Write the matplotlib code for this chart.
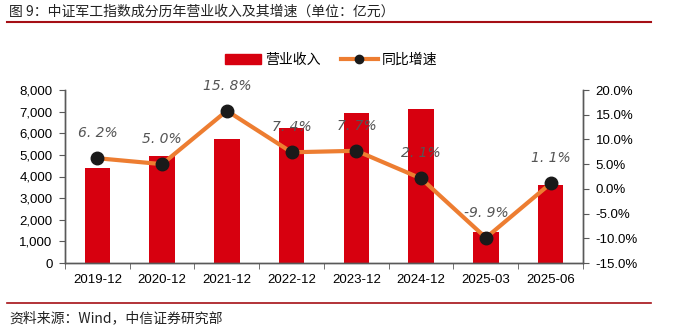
import matplotlib.pyplot as plt
import numpy as np
from matplotlib.lines import Line2D
from matplotlib.patches import Patch
from matplotlib.ticker import FuncFormatter, FixedLocator

plt.rcParams['font.family'] = ['Liberation Sans', 'Noto Sans CJK SC', 'DejaVu Sans']

categories = ['2019-12', '2020-12', '2021-12', '2022-12', '2023-12', '2024-12', '2025-03', '2025-06']
revenue = [4400, 4940, 5720, 6250, 6920, 7100, 1420, 3590]
growth = [6.2, 5.0, 15.8, 7.4, 7.7, 2.1, -9.9, 1.1]

red = '#D7000F'
orange = '#ED7D31'
axcol = '#595959'
cjk = ['Noto Sans CJK SC', 'DejaVu Sans']

fig = plt.figure(figsize=(6.87, 3.30), dpi=100)
ax = fig.add_axes([65 / 687, 1 - 263 / 330, 518 / 687, 173 / 330])
ax2 = ax.twinx()

x = np.arange(len(categories))
ax.bar(x, revenue, width=0.39, color=red, zorder=2)
ax.set_xlim(-0.5, len(categories) - 0.5)
ax.set_ylim(0, 8000)
ax.set_yticks(np.arange(0, 8001, 1000))
ax.yaxis.set_major_formatter(FuncFormatter(lambda v, p: f'{int(v):,}'))
ax.set_xticks(x)
ax.set_xticklabels(categories)
ax.xaxis.set_minor_locator(FixedLocator(np.arange(-0.5, len(categories), 1)))
ax.tick_params(axis='x', which='major', length=0, pad=8, labelsize=9.5, colors='black')
ax.tick_params(axis='x', which='minor', length=4, direction='out', color=axcol)
ax.tick_params(axis='y', length=4, direction='out', color=axcol, labelsize=9.5, pad=5)

ax2.plot(x, growth, color=orange, lw=3, marker='o', ms=9, mfc='#1a1a1a', mec='#1a1a1a', zorder=3)
ax2.set_ylim(-15, 20)
ax2.set_yticks(np.arange(-15, 20.1, 5))
ax2.yaxis.set_major_formatter(FuncFormatter(lambda v, p: f'{v:.1f}%'))
ax2.tick_params(axis='y', length=4, direction='out', color=axcol, labelsize=9.5, pad=5)

for i, g in enumerate(growth):
    ax2.annotate(f'{g:.1f}%'.replace('.', '. '), (x[i], g), xytext=(0, 13), textcoords='offset points',
                 ha='center', va='bottom', fontsize=10, style='italic', color='#555555',
                 family='DejaVu Sans', zorder=4)

for a in (ax, ax2):
    a.spines['top'].set_visible(False)
    for s in ('left', 'right', 'bottom'):
        a.spines[s].set_color(axcol)
        a.spines[s].set_linewidth(1)

handles = [Patch(color=red, label='营业收入'),
           Line2D([0], [0], color=orange, lw=3, marker='o', ms=6, mfc='#1a1a1a', mec='#1a1a1a', label='同比增速')]
fig.legend(handles=handles, loc='center', bbox_to_anchor=(331 / 687, 1 - 60 / 330), ncol=2, frameon=False,
           prop={'family': cjk, 'size': 10}, handlelength=2.6, handletextpad=0.3, columnspacing=1.5)

fig.text(9 / 687, 1 - 12 / 330, '图 9：中证军工指数成分历年营业收入及其增速（单位：亿元）',
         fontsize=10, va='center', ha='left', family=cjk, color='#222222')
fig.add_artist(Line2D([7 / 687, 651 / 687], [1 - 22.3 / 330] * 2, color='#A50F15', lw=1.5))
fig.add_artist(Line2D([7 / 687, 651 / 687], [1 - 303.3 / 330] * 2, color='#A50F15', lw=1.2))
fig.text(9 / 687, 1 - 318 / 330, '资料来源：Wind，中信证券研究部',
         fontsize=10, va='center', ha='left', family=cjk, color='#222222')

fig.savefig('out.png', dpi=100)
